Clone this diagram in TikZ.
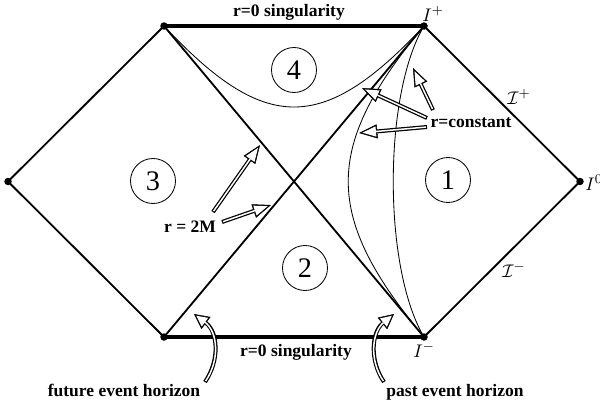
\documentclass[tikz,border=0pt]{standalone}
\usepackage{fontspec}
\setmainfont{Liberation Serif}
\usepackage{amsmath}
\usetikzlibrary{positioning,calc,arrows.meta}

\begin{document}
\begin{tikzpicture}[x=0.6pt,y=-0.6pt,
 edge/.style={line width=1.1pt},
 sing/.style={line width=2.6pt},
 rline/.style={line width=0.5pt},
 dot/.style={circle,fill,inner sep=0pt,minimum size=4.5pt},
 region/.style={circle,draw,line width=0.5pt,inner sep=0pt,minimum size=27pt,font=\fontsize{17}{17}\selectfont},
 lab/.style={font=\fontsize{10.5}{12}\selectfont\bfseries},
 inf/.style={font=\fontsize{11}{12}\selectfont},
 hollow/.style={line width=2.4pt,-{Triangle[length=11pt,width=8.5pt,line width=0.3pt]},
  postaction={draw=white,line width=0.9pt,shorten >=2.1pt,shorten <=0.7pt,
   -{Triangle[length=8.1pt,width=6.2pt,line width=0pt]}}},
 bentarrow/.style={line width=2.4pt,-{Triangle[length=9pt,width=9pt,line width=0.3pt]},
  postaction={draw=white,line width=0.9pt,shorten >=1.7pt,shorten <=0.7pt,
   -{Triangle[length=6.5pt,width=6.5pt,line width=0pt]}}}]
\useasboundingbox (0,0) rectangle (600,407);

% corners of the diagram
\node[dot] (L)  at (8,181.5) {};
\node[dot] (TL) at (164,26) {};
\node[dot] (TR) at (424,26) {};
\node[dot] (BL) at (164,337) {};
\node[dot] (BR) at (424,337) {};
\node[dot] (R)  at (580,181.5) {};

\draw[edge] (L.center) -- (TL.center) -- (BR.center) -- (R.center)
 -- (TR.center) -- (BL.center) -- cycle;
\draw[sing] (TL.center) -- (TR.center);
\draw[sing] (BL.center) -- (BR.center);

% r = constant curves
\draw[rline] (TL.center) .. controls (265,134) and (323,134) .. (TR.center);
\draw[rline] (BR.center) .. controls (323,216) and (323,147) .. (TR.center);
\draw[rline] (BR.center) .. controls (383,268) and (383,95) .. (TR.center);

% regions
\node[region] (r1) at (448,180) {1};
\node[region] (r2) at (305,268) {2};
\node[region] (r3) at (153,181) {3};
\node[region] (r4) at (294,70) {4};

% labels
\node[lab] (stop) at (289,12) {r=0 singularity};
\node[lab] (sbot) at (296,352) {r=0 singularity};
\node[lab] (rc) at (471,123) {r=constant};
\node[lab] (rm) at (190,227) {r = 2M};
\node[lab] (feh) at (124,390) {future event horizon};
\node[lab] (peh) at (455,392) {past event horizon};

\node[inf] (ip) at (433,14) {$I^{+}$};
\node[inf] (iz) at (594,183) {$I^{0}$};
\node[inf] (im) at (424,350) {$I^{-}$};
\node[inf] (sp) at (519,97) {$\mathcal{I}^{+}$};
\node[inf] (sm) at (514,270) {$\mathcal{I}^{-}$};

% arrows
\coordinate (c1) at (433,110); \coordinate (c1t) at (413,68);
\coordinate (c2) at (427,118); \coordinate (c2t) at (362,88);
\coordinate (c3) at (427,127); \coordinate (c3t) at (359,133);
\coordinate (m1) at (213,212); \coordinate (m1t) at (260,145);
\coordinate (m2) at (222,222); \coordinate (m2t) at (271,205);
\coordinate (f0) at (205,382); \coordinate (ft) at (194,314);
\coordinate (p0) at (384,382); \coordinate (pt) at (394,314);

\draw[hollow] (c1) -- (c1t);
\draw[hollow] (c2) -- (c2t);
\draw[hollow] (c3) -- (c3t);
\draw[hollow] (m1) -- (m1t);
\draw[hollow] (m2) -- (m2t);
\draw[bentarrow] (f0) .. controls (220,360) and (218,332) .. (ft);
\draw[bentarrow] (p0) .. controls (369,360) and (372,332) .. (pt);
\end{tikzpicture}
\end{document}
